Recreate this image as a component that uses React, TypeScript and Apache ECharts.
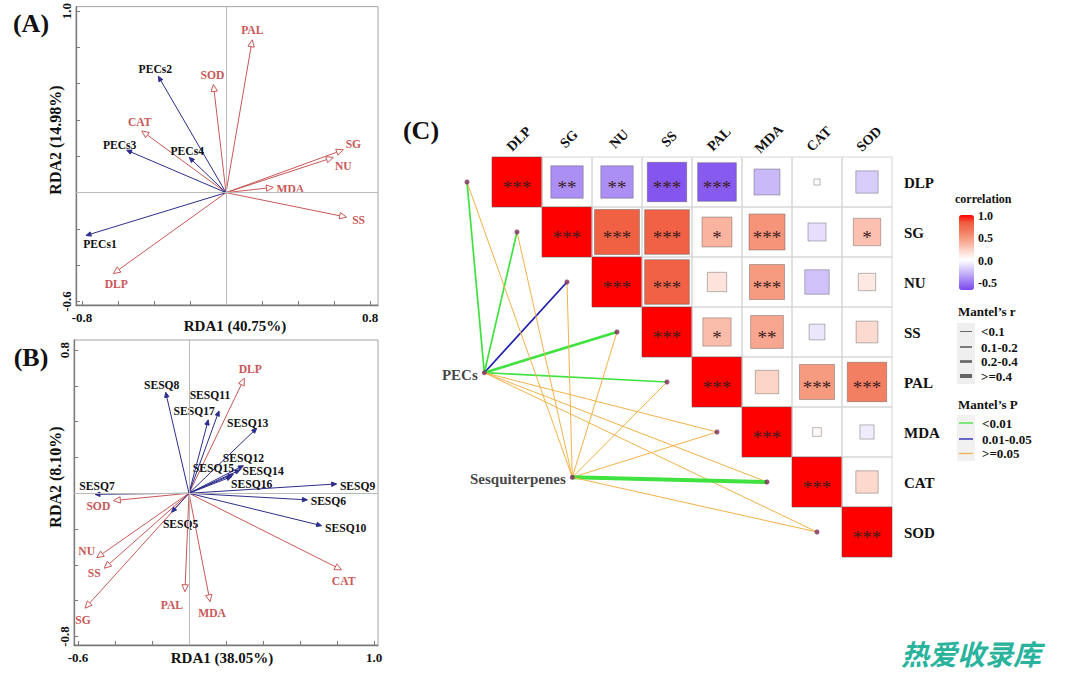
import React, { useEffect, useRef } from 'react';
import * as echarts from 'echarts';

const SERIF = '"Liberation Serif", "Times New Roman", serif';
const RED = '#c95858';
const NAVY = '#2d2d8c';

// ---------------- Panel A (PECs RDA)
const A_RESP_NAMES = ['PAL', 'SOD', 'CAT', 'SG', 'NU', 'MDA', 'SS', 'DLP'];
const A_RESP_X = [0.146, -0.07, -0.468, 0.652, 0.596, 0.263, 0.67, -0.626];
const A_RESP_Y = [0.842, 0.596, 0.34, 0.236, 0.194, 0.029, -0.135, -0.446];
const A_PRED_NAMES = ['PECs1', 'PECs2', 'PECs3', 'PECs4'];
const A_PRED_X = [-0.778, -0.376, -0.552, -0.204];
const A_PRED_Y = [-0.236, 0.641, 0.234, 0.194];
const A_X_TICKS = [-0.8, -0.6, -0.4, -0.2, 0, 0.2, 0.4, 0.6, 0.8];
const A_X_LABELS = [-0.8, 0.8];
const A_Y_TICKS = [-0.6, -0.4, -0.2, 0, 0.2, 0.4, 0.6, 0.8, 1.0];
const A_Y_LABELS = [-0.6, 1.0];
const A_X_TITLE = 'RDA1 (40.75%)';
const A_Y_TITLE = 'RDA2 (14.98%)';

// ---------------- Panel B (Sesquiterpenes RDA)
const B_RESP_NAMES = ['DLP', 'CAT', 'SOD', 'NU', 'SS', 'SG', 'PAL', 'MDA'];
const B_RESP_X = [0.299, 0.825, -0.409, -0.499, -0.458, -0.562, -0.022, 0.114];
const B_RESP_Y = [0.642, -0.428, -0.041, -0.36, -0.419, -0.642, -0.55, -0.606];
const B_PRED_NAMES = ['SESQ5', 'SESQ6', 'SESQ7', 'SESQ8', 'SESQ9', 'SESQ10', 'SESQ11', 'SESQ12', 'SESQ13', 'SESQ14', 'SESQ15', 'SESQ16', 'SESQ17'];
const B_PRED_X = [-0.094, 0.64, -0.508, -0.126, 0.798, 0.717, 0.162, 0.294, 0.366, 0.276, 0.24, 0.231, 0.104];
const B_PRED_Y = [-0.106, -0.037, -0.006, 0.564, 0.052, -0.181, 0.46, 0.154, 0.363, 0.13, 0.106, 0.093, 0.41];
const B_X_TICKS = [-0.6, -0.4, -0.2, 0, 0.2, 0.4, 0.6, 0.8, 1.0];
const B_X_LABELS = [-0.6, 1.0];
const B_Y_TICKS = [-0.8, -0.6, -0.4, -0.2, 0, 0.2, 0.4, 0.6, 0.8];
const B_Y_LABELS = [-0.8, 0.8];
const B_X_TITLE = 'RDA1 (38.05%)';
const B_Y_TITLE = 'RDA2 (8.10%)';

// ---------------- Panel C (correlation + Mantel)
const VARS = ['DLP', 'SG', 'NU', 'SS', 'PAL', 'MDA', 'CAT', 'SOD'];
// each row starts at the diagonal
const CORR_ROWS = [
  [1.0, -0.42, -0.42, -0.62, -0.6, -0.27, -0.015, -0.2],
  [1.0, 0.81, 0.8, 0.36, 0.52, -0.13, 0.3],
  [1.0, 0.8, 0.15, 0.49, -0.24, 0.12],
  [1.0, 0.32, 0.43, -0.1, 0.19],
  [1.0, 0.22, 0.49, 0.62],
  [1.0, 0.03, -0.08],
  [1.0, 0.2],
  [1.0],
];
const STAR_ROWS = [
  ['***', '**', '**', '***', '***', '', '', ''],
  ['***', '***', '***', '*', '***', '', '*'],
  ['***', '***', '', '***', '', ''],
  ['***', '*', '**', '', ''],
  ['***', '', '***', '***'],
  ['***', '', ''],
  ['***', ''],
  ['***'],
];
const MANTEL_GROUPS = ['PECs', 'Sesquiterpenes'];
const MANTEL_R = [
  [0.17, 0.15, 0.12, 0.27, 0.14, 0.05, 0.04, 0.06],
  [0.03, 0.05, 0.02, 0.04, 0.06, 0.03, 0.45, 0.05],
];
const MANTEL_P = [
  [0.001, 0.002, 0.03, 0.001, 0.004, 0.3, 0.4, 0.5],
  [0.5, 0.3, 0.6, 0.4, 0.2, 0.5, 0.001, 0.3],
];
const COLOR_TICKS = [1.0, 0.5, 0.0, -0.5];
const R_BINS = ['<0.1', '0.1-0.2', '0.2-0.4', '>=0.4'];
const P_BINS = ['<0.01', '0.01-0.05', '>=0.05'];

// ---------------- styles / layout (not data)
const VM_MIN = -0.67;
const VM_MAX = 1.0;
const VM_COLORS = ['#7a48ee', '#9a76f2', '#bca8f7', '#ded4fb', '#ffffff', '#fde0d7', '#fab9a6', '#f6987e', '#f27659', '#f05c40', '#ff0000'];
const R_WIDTHS = [1, 1.7, 2.7, 4];
const P_COLORS = ['#3fe23f', '#1c1cae', '#f2b24a'];
const NODE_POS: Record<string, [number, number]> = { PECs: [-0.154, 4.314], Sesquiterpenes: [1.606, 6.406] };

const OFF_A: Record<string, [number, number]> = {
  PAL: [0, -9], SOD: [-1, -9], PECs2: [-3, -7], CAT: [-2, -8], PECs3: [-7, -5], PECs4: [-2, -6],
  SG: [10, -5], NU: [10, 9], MDA: [17, 2], SS: [12, 3], PECs1: [14, 9], DLP: [3, 11],
};
const OFF_B: Record<string, [number, number]> = {
  DLP: [6, -9], SESQ8: [-4, -7], SESQ11: [-9, -15], SESQ17: [-14, -8], SESQ13: [-9, -5],
  SESQ12: [0, -7], SESQ15: [-20, -6], SESQ14: [23, 2], SESQ16: [20, 8], SESQ9: [21, 3],
  SESQ6: [21, 2], SESQ10: [24, 3], CAT: [2, 12], SESQ7: [2, -8], SOD: [-15, 6], SESQ5: [9, 12],
  NU: [-10, -6], SS: [-10, 5], SG: [-2, 12], PAL: [-13, 14], MDA: [2, 12],
};

function rBin(r: number) {
  return r < 0.1 ? 0 : r < 0.2 ? 1 : r < 0.4 ? 2 : 3;
}
function pBin(p: number) {
  return p < 0.01 ? 0 : p < 0.05 ? 1 : 2;
}

function axes(gridIndex: number, xMin: number, xMax: number, xTicks: number[], xLabels: number[],
  yMin: number, yMax: number, yTicks: number[], yLabels: number[]) {
  const common = (ticks: number[], labels: number[], rotate: number) => ({
    type: 'value',
    gridIndex,
    axisLine: { show: true, onZero: false, lineStyle: { color: '#7a7a7a', width: 1.3 } },
    axisTick: { show: true, inside: true, length: 4, customValues: ticks, lineStyle: { color: '#7a7a7a', width: 1 } },
    axisLabel: {
      show: true, customValues: labels, rotate, margin: rotate ? 3 : 6,
      formatter: (v: number) => Number(v).toFixed(1),
      fontFamily: SERIF, fontWeight: 'bold', fontSize: 13, color: '#111',
    },
    splitLine: { show: false },
  });
  return {
    x: { ...common(xTicks, xLabels, 0), min: xMin, max: xMax },
    y: { ...common(yTicks, yLabels, 90), min: yMin, max: yMax },
  };
}

function arrowSeries(gridIndex: number, names: string[], xs: number[], ys: number[], hollow: boolean,
  offsets: Record<string, [number, number]>, z: number) {
  const stroke = hollow ? RED : NAVY;
  const labelColor = hollow ? RED : '#111';
  return {
    type: 'custom',
    coordinateSystem: 'cartesian2d',
    xAxisIndex: gridIndex,
    yAxisIndex: gridIndex,
    z,
    clip: false,
    silent: true,
    data: names.map((_, i) => [xs[i], ys[i]]),
    renderItem: (params: any, api: any) => {
      const o = api.coord([0, 0]);
      const p = api.coord([api.value(0), api.value(1)]);
      const dx = p[0] - o[0];
      const dy = p[1] - o[1];
      const len = Math.hypot(dx, dy) || 1;
      const ux = dx / len;
      const uy = dy / len;
      const L = hollow ? 7 : 5;
      const W = hollow ? 3.2 : 2.2;
      const bx = p[0] - ux * L;
      const by = p[1] - uy * L;
      const name = names[params.dataIndex];
      const off = offsets[name] || [0, 0];
      return {
        type: 'group',
        children: [
          { type: 'line', shape: { x1: o[0], y1: o[1], x2: hollow ? bx : p[0] - ux * 2, y2: hollow ? by : p[1] - uy * 2 }, style: { stroke, lineWidth: 1 } },
          { type: 'polygon', shape: { points: [[p[0], p[1]], [bx - uy * W, by + ux * W], [bx + uy * W, by - ux * W]] }, style: { fill: hollow ? '#fff' : stroke, stroke, lineWidth: 1 } },
          {
            type: 'text', x: p[0] + off[0], y: p[1] + off[1],
            style: { text: name, fill: labelColor, font: `bold 11.6px ${SERIF}`, align: 'center', verticalAlign: 'middle', textAlign: 'center', textVerticalAlign: 'middle' },
          },
        ],
      };
    },
  };
}

function crossSeries(gridIndex: number) {
  return {
    type: 'line', xAxisIndex: gridIndex, yAxisIndex: gridIndex, data: [], silent: true, z: 1,
    markLine: {
      silent: true, symbol: ['none', 'none'], label: { show: false }, animation: false,
      lineStyle: { color: '#b9b9b9', width: 1, type: 'solid' },
      data: [{ xAxis: 0 }, { yAxis: 0 }],
    },
  };
}

function textEl(text: string, x: number, y: number, font: string, fill = '#111', align = 'center', rotation = 0) {
  return {
    type: 'text', x, y, rotation, silent: true,
    style: { text, font, fill, align, verticalAlign: 'middle', textAlign: align, textVerticalAlign: 'middle' },
  };
}

export default function App() {
  const ref = useRef<HTMLDivElement>(null);
  useEffect(() => {
    if (!ref.current) return;
    const chart = echarts.init(ref.current, undefined, { renderer: 'svg' });

    const aAx = axes(0, -0.8333, 0.8444, A_X_TICKS, A_X_LABELS, -0.619, 1.0247, A_Y_TICKS, A_Y_LABELS);
    const bAx = axes(1, -0.6216, 1.0216, B_X_TICKS, B_X_LABELS, -0.8475, 0.856, B_Y_TICKS, B_Y_LABELS);

    // matrix data
    const matData: number[][] = [];
    const matStars: string[] = [];
    CORR_ROWS.forEach((row, i) => {
      row.forEach((r, k) => {
        matData.push([i + k, i, r]);
        matStars.push(STAR_ROWS[i][k]);
      });
    });

    const mantelLines: any[] = [];
    MANTEL_GROUPS.forEach((g, gi) => {
      VARS.forEach((_, i) => {
        mantelLines.push({
          coords: [NODE_POS[g], [i - 0.5, i + 0.5]],
          lineStyle: { color: P_COLORS[pBin(MANTEL_P[gi][i])], width: R_WIDTHS[rBin(MANTEL_R[gi][i])], opacity: 1, curveness: 0 },
        });
      });
    });
    const dots: any[] = VARS.map((_, i) => ({ value: [i - 0.5, i + 0.5] }));
    MANTEL_GROUPS.forEach((g) => {
      dots.push({
        value: NODE_POS[g], name: g,
        label: { show: true, position: 'left', distance: 4, offset: [0, 2], formatter: g, fontFamily: SERIF, fontWeight: 'bold', fontSize: 15, color: '#111' },
      });
    });

    const matrixSeries = {
      type: 'custom', coordinateSystem: 'cartesian2d', xAxisIndex: 2, yAxisIndex: 2, z: 3, silent: true,
      data: matData,
      renderItem: (params: any, api: any) => {
        const col = api.value(0);
        const row = api.value(1);
        const r = api.value(2);
        const tl = api.coord([col, row]);
        const br = api.coord([col + 1, row + 1]);
        const w = br[0] - tl[0];
        const h = br[1] - tl[1];
        const cx = tl[0] + w / 2;
        const cy = tl[1] + h / 2;
        const s = col === row ? w : Math.sqrt(Math.abs(r)) * w;
        const children: any[] = [
          { type: 'rect', shape: { x: tl[0], y: tl[1], width: w, height: h }, style: { fill: 'none', stroke: '#d6d6d6', lineWidth: 1 } },
          { type: 'rect', shape: { x: cx - s / 2, y: cy - s / 2, width: s, height: s }, style: { fill: api.visual('color'), stroke: 'rgba(80,80,80,0.4)', lineWidth: 1 } },
        ];
        const st = matStars[params.dataIndex];
        if (st) children.push(textEl(st, cx, cy + 5, `19px ${SERIF}`, '#3d1d1d'));
        if (col === row) {
          const top = api.coord([col, 0])[1];
          children.push(textEl(VARS[col], cx + 2, top - 18, `bold 14px ${SERIF}`, '#111', 'center', Math.PI / 4));
          const right = api.coord([8, row])[0];
          children.push(textEl(VARS[row], right + 12, cy + 1, `bold 15px ${SERIF}`, '#111', 'left'));
        }
        return { type: 'group', children };
      },
    };

    // legend graphics
    const barTop = 215;
    const barH = 75;
    const g: any[] = [
      textEl('(A)', 31, 23, `bold 26px ${SERIF}`),
      textEl('(B)', 31, 357, `bold 26px ${SERIF}`),
      textEl('(C)', 421, 130, `bold 26px ${SERIF}`),
      textEl(A_X_TITLE, 235, 326, `bold 15px ${SERIF}`),
      textEl(A_Y_TITLE, 55, 140, `bold 16px ${SERIF}`, '#111', 'center', Math.PI / 2),
      textEl(B_X_TITLE, 222, 658, `bold 15px ${SERIF}`),
      textEl(B_Y_TITLE, 55, 477, `bold 16px ${SERIF}`, '#111', 'center', Math.PI / 2),
      textEl('correlation', 955, 199, `bold 12px ${SERIF}`, '#111', 'left'),
      textEl('Mantel\u2019s r', 958, 311, `bold 13px ${SERIF}`, '#111', 'left'),
      textEl('Mantel\u2019s P', 958, 404, `bold 13px ${SERIF}`, '#111', 'left'),
      { type: 'rect', silent: true, shape: { x: 957, y: 323, width: 18, height: 61 }, style: { fill: '#efefef' } },
      { type: 'rect', silent: true, shape: { x: 957, y: 415, width: 18, height: 46 }, style: { fill: '#f1f1f1' } },
      {
        type: 'text', x: 971, y: 653, silent: true,
        style: { text: '热爱收录库', font: 'italic bold 28px "Noto Sans CJK SC"', fill: '#2ab39c', align: 'center', verticalAlign: 'middle', textAlign: 'center', textVerticalAlign: 'middle' },
      },
    ];
    COLOR_TICKS.forEach((v) => {
      const y = barTop + ((VM_MAX - v) / (VM_MAX - VM_MIN)) * barH;
      g.push(textEl(v.toFixed(1), 978, y + 1, `bold 12px ${SERIF}`, '#111', 'left'));
    });
    const rYs = [331.5, 347, 361.5, 376];
    R_BINS.forEach((t, i) => {
      g.push({ type: 'line', silent: true, shape: { x1: 960, y1: rYs[i], x2: 972, y2: rYs[i] }, style: { stroke: '#666', lineWidth: R_WIDTHS[i] } });
      g.push(textEl(t, 981, rYs[i], `bold 13px ${SERIF}`, '#111', 'left'));
    });
    const pYs = [423, 439, 453.5];
    P_BINS.forEach((t, i) => {
      g.push({ type: 'line', silent: true, shape: { x1: 959, y1: pYs[i], x2: 973, y2: pYs[i] }, style: { stroke: P_COLORS[i], lineWidth: 1.3 } });
      g.push(textEl(t, 982, pYs[i], `bold 13px ${SERIF}`, '#111', 'left'));
    });

    chart.setOption({
      animation: false,
      backgroundColor: '#ffffff',
      grid: [
        { left: 76, top: 5, width: 302, height: 300, show: true, borderColor: '#a3a3a3', borderWidth: 1 },
        { left: 74, top: 340, width: 304, height: 305, show: true, borderColor: '#a3a3a3', borderWidth: 1 },
        { left: 442, top: 157, width: 450, height: 400, show: false },
      ],
      xAxis: [aAx.x, bAx.x, { type: 'value', gridIndex: 2, min: -1, max: 8, show: false }],
      yAxis: [aAx.y, bAx.y, { type: 'value', gridIndex: 2, min: 0, max: 8, inverse: true, show: false }],
      visualMap: [{
        type: 'continuous', seriesIndex: 6, dimension: 2, min: VM_MIN, max: VM_MAX,
        inRange: { color: VM_COLORS }, left: 954, top: 210, itemWidth: 15, itemHeight: barH,
        calculable: false, hoverLink: false, padding: 5, orient: 'vertical',
      }],
      graphic: g,
      series: [
        crossSeries(0),
        crossSeries(1),
        arrowSeries(0, A_RESP_NAMES, A_RESP_X, A_RESP_Y, true, OFF_A, 3),
        arrowSeries(0, A_PRED_NAMES, A_PRED_X, A_PRED_Y, false, OFF_A, 4),
        arrowSeries(1, B_RESP_NAMES, B_RESP_X, B_RESP_Y, true, OFF_B, 3),
        arrowSeries(1, B_PRED_NAMES, B_PRED_X, B_PRED_Y, false, OFF_B, 4),
        matrixSeries,
        {
          type: 'lines', coordinateSystem: 'cartesian2d', xAxisIndex: 2, yAxisIndex: 2, z: 4, silent: true,
          lineStyle: { opacity: 1, curveness: 0 }, data: mantelLines,
        },
        {
          type: 'scatter', xAxisIndex: 2, yAxisIndex: 2, z: 5, silent: true, symbolSize: 5,
          itemStyle: { color: '#7b2b5a' }, data: dots,
        },
      ],
    });
    return () => chart.dispose();
  }, []);
  return <div ref={ref} style={{ position: 'absolute', left: 0, top: 0, width: 1074, height: 678 }} />;
}
